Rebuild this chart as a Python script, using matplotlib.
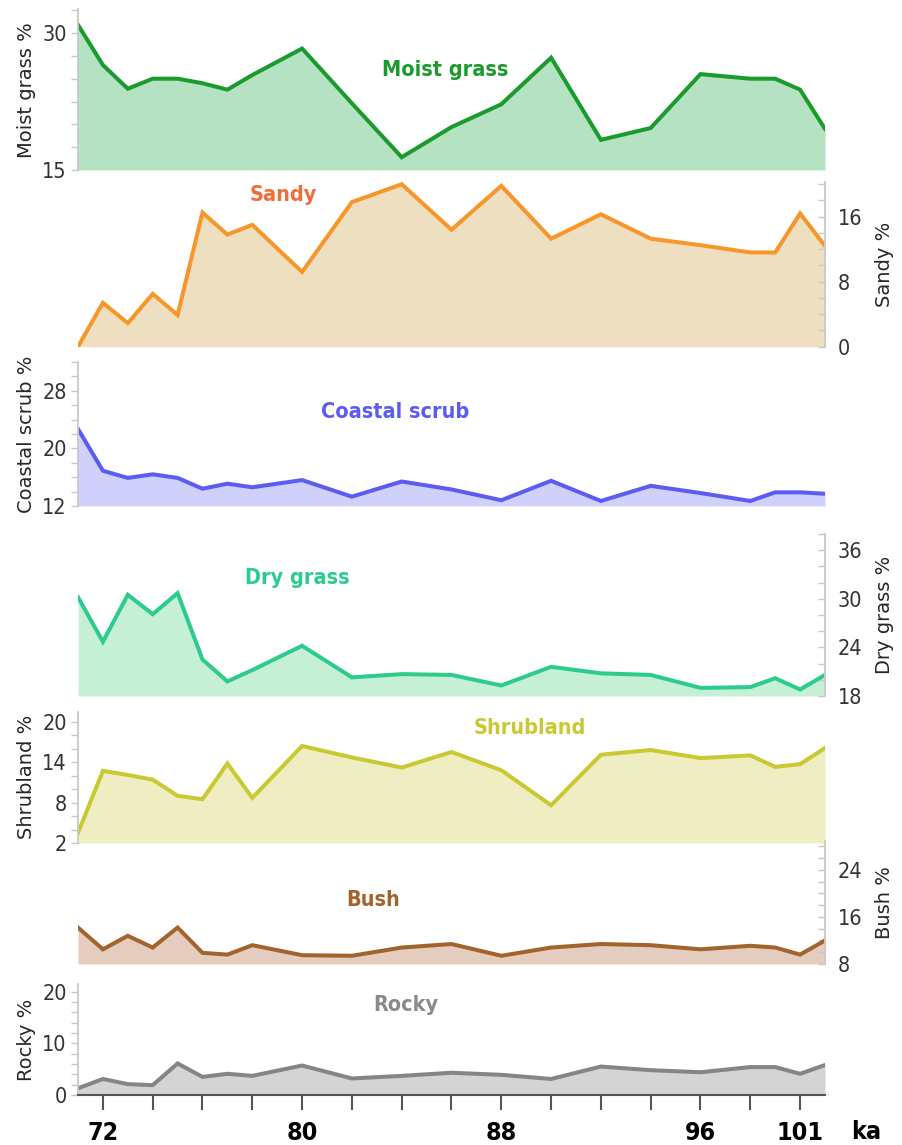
import numpy as np
import matplotlib.pyplot as plt

# age of each sample, ka
ka = [71, 72, 73, 74, 75, 76, 77, 78, 80, 82, 84, 86, 88, 90, 92, 94, 96, 98, 99, 100, 101]

# vegetation / habitat percentages per sample
moist_grass = [30.9, 26.5, 23.9, 25.0, 25.0, 24.5, 23.8, 25.4, 28.3, 22.3, 16.4, 19.7, 22.2, 27.3,
               18.3, 19.6, 25.5, 25.0, 25.0, 23.8, 19.5]
sandy = [0.0, 5.4, 2.9, 6.5, 3.9, 16.5, 13.8, 15.0, 9.2, 17.8, 20.0, 14.4, 19.8, 13.3,
         16.3, 13.3, 12.5, 11.6, 11.6, 16.4, 12.4]
coastal_scrub = [22.7, 16.9, 15.9, 16.4, 15.9, 14.4, 15.1, 14.6, 15.6, 13.3, 15.4, 14.3, 12.8, 15.5,
                 12.7, 14.8, 13.8, 12.7, 13.9, 13.9, 13.7]
dry_grass = [30.2, 24.7, 30.5, 28.1, 30.7, 22.5, 19.8, 21.2, 24.2, 20.3, 20.7, 20.6, 19.3, 21.6,
             20.8, 20.6, 19.0, 19.1, 20.2, 18.8, 20.6]
shrubland = [3.5, 12.7, 12.1, 11.4, 9.0, 8.5, 13.8, 8.7, 16.4, 14.7, 13.2, 15.5, 12.8, 7.6,
             15.1, 15.8, 14.6, 15.0, 13.3, 13.7, 16.1]
bush = [14.2, 10.5, 12.8, 10.8, 14.2, 9.9, 9.6, 11.2, 9.5, 9.4, 10.8, 11.4, 9.4, 10.8,
        11.4, 11.2, 10.5, 11.1, 10.8, 9.6, 12.0]
rocky = [1.3, 3.1, 2.1, 1.9, 6.1, 3.5, 4.1, 3.7, 5.7, 3.2, 3.7, 4.3, 3.9, 3.1,
         5.5, 4.8, 4.4, 5.4, 5.4, 4.1, 5.8]

x_ticks = [72, 74, 76, 78, 80, 82, 84, 86, 88, 90, 92, 94, 96, 98, 100]
x_labels = {72: '72', 80: '80', 88: '88', 96: '96', 100: '101'}

W, H = 902, 1145
X0, X1 = 78, 825

# name, values, line colour, fill colour, title colour, ymin, ymax, ticks, labelled ticks,
# axis side, pixel top, pixel bottom, title pixel position, axis label
panels = [
    ('Moist grass', moist_grass, '#1b9a2e', '#b4e2c2', '#1b9a2e', 15, 32.6, np.arange(15, 33, 2.5), [15, 30],
     'left', 9.3, 170, (445, 70), 'Moist grass %'),
    ('Sandy', sandy, '#f7962a', '#efdfc1', '#f26d3a', 0, 20.3, np.arange(0, 21, 2), [0, 8, 16],
     'right', 181.8, 346.7, (283, 195), 'Sandy %'),
    ('Coastal scrub', coastal_scrub, '#5c5cf2', '#d0d1fa', '#5c5cf2', 12, 32, np.arange(12, 33, 2), [12, 20, 28],
     'left', 362, 506, (395, 412), 'Coastal scrub %'),
    ('Dry grass', dry_grass, '#2ecb8e', '#c6f0d6', '#2ecb8e', 18, 38, np.arange(18, 39, 2), [18, 24, 30, 36],
     'right', 534, 696, (297, 578), 'Dry grass %'),
    ('Shrubland', shrubland, '#c9c934', '#eeeec2', '#c9c934', 2, 21.5, np.arange(2, 21, 2), [2, 8, 14, 20],
     'left', 711.6, 843, (530, 728), 'Shrubland %'),
    ('Bush', bush, '#a2632c', '#e4ccbf', '#a2632c', 8, 29, np.arange(8, 29, 2), [8, 16, 24],
     'right', 840.6, 964, (373, 900), 'Bush %'),
    ('Rocky', rocky, '#858585', '#d4d4d4', '#8a8a8a', 0, 21.5, np.arange(0, 21, 2), [0, 10, 20],
     'left', 983.8, 1095, (406, 1005), 'Rocky %'),
]

# narrow face for numbers and series names
narrow = dict(family='DejaVu Sans', fontstretch='condensed')

fig = plt.figure(figsize=(W / 100, H / 100), dpi=100)

for i, (name, vals, lc, fc, tc, ymin, ymax, ticks, labelled, side, top, bot, tpos, ylab) in enumerate(panels):
    ax = fig.add_axes([X0 / W, 1 - bot / H, (X1 - X0) / W, (bot - top) / H])
    ax.set_facecolor('none')
    ax.fill_between(ka, vals, ymin, color=fc, lw=0)
    ax.plot(ka, vals, color=lc, lw=2.9, solid_joinstyle='miter')
    ax.set_xlim(71, 101)
    ax.set_ylim(ymin, ymax)

    for s in ax.spines.values():
        s.set_visible(False)
    ax.spines[side].set_visible(True)
    ax.spines[side].set_color('#c8c8c8')
    ax.spines[side].set_linewidth(1.3)

    ax.set_yticks(ticks)
    ax.set_yticklabels(['%g' % t if t in labelled else '' for t in ticks],
                       fontsize=15.5, color='#333333', **narrow)
    if side == 'left':
        ax.tick_params(axis='y', direction='out', length=5, width=1, color='#c8c8c8', pad=3)
        ax.yaxis.set_label_coords(-42 / (X1 - X0), 0.5)
    else:
        ax.yaxis.tick_right()
        ax.yaxis.set_label_position('right')
        ax.tick_params(axis='y', direction='in', length=5, width=1, color='#c8c8c8', pad=9)
        ax.yaxis.set_label_coords(1 + 50 / (X1 - X0), 0.5)
    ax.set_ylabel(ylab, fontsize=14, color='#262626')

    if i < len(panels) - 1:
        ax.set_xticks([])
    else:
        ax.spines['bottom'].set_visible(True)
        ax.spines['bottom'].set_color('#555555')
        ax.spines['bottom'].set_linewidth(1.5)
        ax.set_xticks(x_ticks)
        ax.set_xticklabels([x_labels.get(t, '') for t in x_ticks],
                           fontsize=18, fontweight='bold', **narrow)
        ax.tick_params(axis='x', direction='out', length=11, width=1.5, color='#555555', pad=8)

    fig.text(tpos[0] / W, 1 - tpos[1] / H, name, color=tc, fontsize=15.5, fontweight='bold',
             ha='center', va='center', **narrow)

fig.text(866 / W, 1 - 1132 / H, 'ka', fontsize=18, fontweight='bold',
         ha='center', va='center', **narrow)

plt.savefig('out.png', dpi=100)
